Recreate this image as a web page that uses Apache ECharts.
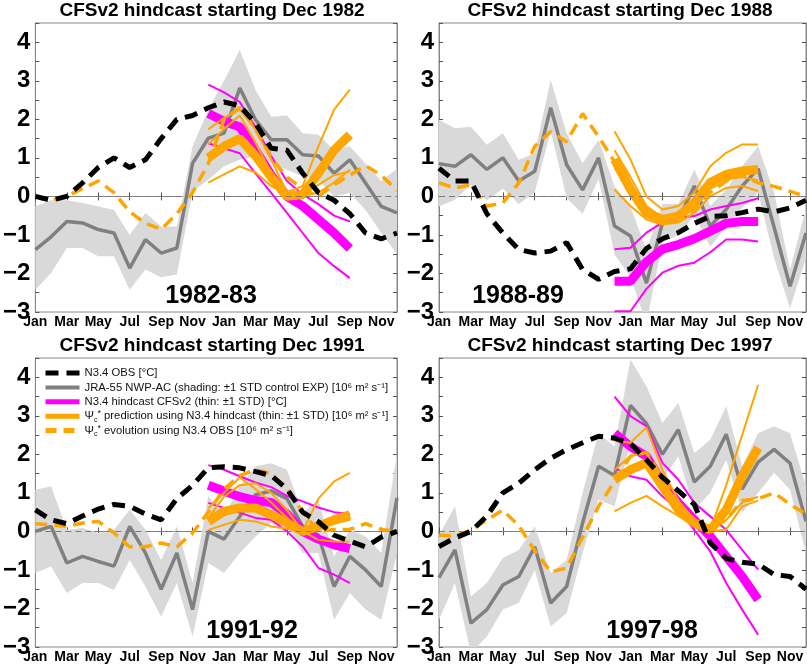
<!DOCTYPE html>
<html><head><meta charset="utf-8">
<script src="https://cdn.jsdelivr.net/npm/echarts@6/dist/echarts.min.js"></script>
<style>html,body{margin:0;padding:0;background:#fff}#c{width:807px;height:665px}</style>
</head><body><div id="c"></div>
<script>
// ---------- categories / labels ----------
const monthLabels = ['Jan','Feb','Mar','Apr','May','Jun','Jul','Aug','Sep','Oct','Nov','Dec',
                     'Jan','Feb','Mar','Apr','May','Jun','Jul','Aug','Sep','Oct','Nov','Dec'];
const yTicks = [-3,-2,-1,0,1,2,3,4];
const panelTitles = ['CFSv2 hindcast starting Dec 1982','CFSv2 hindcast starting Dec 1988',
                     'CFSv2 hindcast starting Dec 1991','CFSv2 hindcast starting Dec 1997'];
const panelYears = ['1982-83','1988-89','1991-92','1997-98'];
const legendNames = ['N3.4 OBS [°C]',
  'JRA-55 NWP-AC (shading: ±1 STD control EXP) [10⁶ m² s⁻¹]',
  'N3.4 hindcast CFSv2 (thin: ±1 STD) [°C]',
  'psiPred', 'psiObs'];
const FC_START = 11; // forecasts run Dec (yr1) .. Sep (yr2)

// ---------- 1982-83 ----------
const jra82   = [-1.38,-1.05,-0.65,-0.69,-0.86,-0.95,-1.86,-1.12,-1.47,-1.34,0.86,1.51,1.64,2.81,1.99,1.47,1.47,1.08,1.05,0.6,0.95,0.35,-0.26,-0.43];
const jraHi82 = [-0.26,-0.1,-0.1,-0.17,-0.26,-0.35,-1.0,-0.43,-0.78,-0.78,1.3,2.25,3.0,3.8,2.76,2.07,2.1,1.64,1.6,1.2,1.3,0.85,0.4,0.72];
const jraLo82 = [-2.42,-1.99,-1.34,-1.34,-1.55,-1.55,-2.42,-1.9,-2.1,-2.03,0.13,0.43,0.78,0.95,1.04,0.86,0.69,0.52,0.43,0.0,0.09,-0.35,-0.95,-1.5];
const obs82   = [0.0,-0.1,0.0,0.35,0.75,1.0,0.75,0.95,1.5,2.0,2.1,2.3,2.45,2.35,1.9,1.25,1.2,0.6,0.1,-0.1,-0.45,-0.95,-1.1,-0.95];
const psiObs82= [0.0,-0.1,0.0,0.2,0.4,0.1,-0.4,-0.7,-0.85,-0.45,0.1,0.85,2.0,2.3,1.75,1.0,0.5,0.2,0.0,0.3,0.55,0.8,0.55,0.15];
const hind82   = [2.15,1.95,1.8,1.2,0.55,0.0,-0.25,-0.6,-0.95,-1.35];
const hindHi82 = [2.9,2.7,2.45,1.8,1.05,0.4,0.05,-0.2,-0.5,-0.65];
const hindLo82 = [1.38,1.25,1.12,0.6,0.09,-0.43,-0.95,-1.47,-1.81,-2.12];
const pred82   = [1.0,1.3,1.5,1.05,0.5,0.0,0.05,0.6,1.2,1.6];
const predThinA82 = [1.74,2.04,2.25,1.74,0.96,0.1,0.27,1.3,2.25,2.77];
const predThinB82 = [0.36,0.57,0.78,0.62,0.27,0.05,0.0,0.1,0.36,0.7];
const predThinC82 = [1.35,1.75,2.1,1.4,0.6,0.0,0.05,0.3,0.55,0.65];

// ---------- 1988-89 ----------
const jra88   = [0.85,0.78,1.08,0.7,1.0,0.4,0.65,2.3,0.82,0.17,1.0,-0.77,-1.03,-2.25,-0.7,-0.6,0.27,-0.77,-0.34,0.27,0.72,-0.8,-2.33,-0.95];
const jraHi88 = [1.99,1.77,1.81,1.34,1.64,0.95,1.12,3.02,1.64,0.86,1.47,0.26,-0.26,-1.4,-0.2,-0.2,0.7,-0.25,0.18,0.78,1.3,0.1,-1.9,-0.3];
const jraLo88 = [-0.26,-0.09,0.3,-0.1,0.2,-0.2,0.1,1.7,-0.05,-0.45,0.45,-1.5,-2.1,-3.3,-1.2,-1.0,-0.5,-1.3,-0.8,-0.3,0.1,-1.6,-2.9,-1.6];
const obs88   = [0.73,0.4,0.4,-0.45,-0.95,-1.38,-1.47,-1.42,-1.2,-1.9,-2.15,-1.95,-1.88,-1.35,-1.1,-0.94,-0.7,-0.52,-0.5,-0.42,-0.33,-0.4,-0.3,-0.1];
const psiObs88= [0.35,0.22,0.3,-0.25,-0.17,0.35,1.3,1.68,1.42,2.15,1.55,0.9,0.2,-0.4,-0.65,-0.6,-0.35,0.1,0.4,0.55,0.35,0.26,0.13,0.0];
const hind88   = [-2.2,-2.2,-1.7,-1.37,-1.25,-1.1,-0.9,-0.7,-0.65,-0.65];
const hindHi88 = [-1.37,-1.33,-0.94,-0.68,-0.55,-0.51,-0.34,-0.25,-0.17,-0.05];
const hindLo88 = [-2.98,-2.98,-2.4,-1.98,-1.8,-1.72,-1.45,-1.12,-1.12,-1.17];
const pred88   = [0.96,0.18,-0.43,-0.6,-0.51,-0.17,0.36,0.57,0.66,0.7];
const predThinA88 = [1.69,0.96,0.0,-0.34,-0.25,0.1,0.78,1.13,1.35,1.35];
const predThinB88 = [0.18,-0.25,-0.6,-0.73,-0.68,-0.43,0.0,0.22,0.27,0.14];
const predThinC88 = [1.2,0.5,-0.25,-0.55,-0.45,-0.1,0.3,0.45,0.5,0.42];
const predThinD88 = [0.75,0.05,-0.5,-0.68,-0.6,-0.28,0.2,0.4,0.6,0.62];

// ---------- 1991-92 ----------
const jra91   = [0.0,0.13,-0.82,-0.65,-0.78,-0.9,0.13,-0.56,-1.5,-0.56,-2.03,0.0,-0.2,0.39,0.95,1.05,0.85,0.13,-0.1,-1.43,-0.65,-1.0,-1.43,0.87];
const jraHi91 = [1.08,1.17,0.04,0.09,-0.04,0.04,0.56,0.04,-0.74,0.13,-1.34,0.91,0.39,1.17,1.69,1.77,1.6,0.48,0.82,-0.65,0.04,-0.13,-0.56,2.03];
const jraLo91 = [-1.08,-0.91,-1.6,-1.34,-1.34,-1.52,-0.74,-1.43,-2.21,-1.34,-2.73,-0.82,-1.08,-0.56,-0.13,0.22,0.13,-0.56,-0.56,-2.29,-1.6,-2.03,-2.29,-0.56];
const obs91   = [0.56,0.3,0.2,0.4,0.58,0.7,0.65,0.45,0.3,0.85,1.2,1.65,1.68,1.65,1.55,1.45,1.1,0.5,0.25,-0.1,-0.25,-0.4,-0.15,0.0];
const psiObs91= [0.2,0.17,0.13,0.22,0.26,-0.04,-0.4,-0.4,-0.3,-0.4,-0.04,0.5,1.1,1.45,1.6,1.5,1.1,0.5,0.0,0.05,0.05,0.2,0.05,0.0];
const hind91   = [1.2,1.05,0.9,0.8,0.75,0.45,0.0,-0.2,-0.35,-0.45];
const hindHi91 = [1.72,1.6,1.43,1.27,1.15,0.92,0.78,0.62,0.5,0.45];
const hindLo91 = [0.74,0.61,0.48,0.35,0.3,0.0,-0.39,-0.95,-1.12,-1.34];
const pred91   = [0.26,0.52,0.61,0.61,0.43,0.22,0.0,0.13,0.3,0.43];
const predThinA91 = [0.35,0.9,1.2,1.25,1.0,0.55,0.0,0.85,1.3,1.52];
const predThinB91 = [0.04,0.17,0.3,0.26,0.13,0.07,0.0,-0.22,-0.26,-0.26];
const predThinC91 = [0.6,1.0,1.4,1.1,0.75,0.35,0.0,0.1,0.2,0.3];

// ---------- 1997-98 ----------
const jra97   = [-1.2,-0.48,-2.38,-2.03,-1.39,-1.17,-0.4,-1.86,-1.43,0.22,1.69,1.45,3.27,2.8,2.0,2.64,1.28,1.69,2.52,1.1,1.8,2.13,1.77,0.26];
const jraHi97 = [-0.1,0.65,-1.69,-1.34,-0.69,-0.48,0.13,-1.08,-0.74,1.0,2.55,2.2,4.46,3.77,2.81,3.33,2.03,2.38,3.25,1.69,2.55,2.73,2.55,1.17];
const jraLo97 = [-2.29,-1.34,-3.16,-2.73,-2.03,-1.86,-1.0,-2.47,-2.12,-0.56,0.82,0.65,2.29,1.86,1.34,1.95,0.56,1.0,1.86,0.48,1.0,1.52,1.08,-0.56];
const obs97   = [-0.39,-0.17,0.0,0.4,1.0,1.25,1.6,1.9,2.12,2.3,2.47,2.42,2.28,1.86,1.4,1.05,0.7,-0.3,-0.7,-0.8,-0.85,-1.12,-1.17,-1.5];
const psiObs97= [-0.1,-0.12,0.03,0.3,0.55,0.15,-0.5,-1.05,-0.95,-0.15,0.65,1.3,1.95,2.05,1.4,0.7,0.25,0.05,0.3,0.8,0.85,1.0,0.7,0.45];
const hind97   = [2.55,2.2,1.95,1.26,0.74,0.3,-0.13,-0.65,-1.17,-1.77];
const hindHi97 = [3.5,2.99,2.73,1.78,1.34,0.74,0.39,0.04,-0.48,-0.99];
const hindLo97 = [1.65,1.43,1.34,0.91,0.56,0.04,-0.52,-1.34,-2.03,-2.68];
const pred97   = [1.34,1.6,1.78,1.17,0.56,0.22,0.04,0.56,1.43,2.17];
const predThinA97 = [2.35,2.3,2.7,1.6,0.8,0.3,0.05,1.2,2.5,3.8];
const predThinB97 = [0.52,0.74,0.92,0.65,0.4,0.13,0.0,0.05,0.65,0.8];
const predThinC97 = [1.6,1.95,2.05,1.2,0.6,0.2,0.0,0.3,0.75,0.9];

const panels = [
  {jra:jra82, hi:jraHi82, lo:jraLo82, obs:obs82, psi:psiObs82, hind:hind82, hindHi:hindHi82, hindLo:hindLo82, pred:pred82, thin:[predThinA82,predThinB82,predThinC82]},
  {jra:jra88, hi:jraHi88, lo:jraLo88, obs:obs88, psi:psiObs88, hind:hind88, hindHi:hindHi88, hindLo:hindLo88, pred:pred88, thin:[predThinA88,predThinB88,predThinC88,predThinD88]},
  {jra:jra91, hi:jraHi91, lo:jraLo91, obs:obs91, psi:psiObs91, hind:hind91, hindHi:hindHi91, hindLo:hindLo91, pred:pred91, thin:[predThinA91,predThinB91,predThinC91]},
  {jra:jra97, hi:jraHi97, lo:jraLo97, obs:obs97, psi:psiObs97, hind:hind97, hindHi:hindHi97, hindLo:hindLo97, pred:pred97, thin:[predThinA97,predThinB97,predThinC97]}
];

// ---------- layout ----------
const FONT = '"Liberation Sans", Arial, Helvetica, sans-serif';
const grids = [
  {left:31, top:23, width:366, height:289},
  {left:439, top:23, width:367, height:289},
  {left:32, top:358, width:365, height:289},
  {left:439, top:358, width:367, height:289}
];
const titlePos = [[212,10.5],[620,10.5],[212,345.5],[620,345.5]];
const yearPos = [[211,296],[518,296],[252,631],[652,631]];

const C_SHADE = '#d9d9d9', C_GRAY = '#808080', C_MAG = '#ff00ff', C_ORA = '#ffa500', C_BLK = '#000000';

function pad(arr){
  return Array(FC_START).fill(null).concat(arr, Array(24 - FC_START - arr.length).fill(null));
}

const xAxes = [], yAxes = [], series = [];
grids.forEach((g, p) => {
  const tickStyle = {inside:true, length:4, lineStyle:{color:'#555', width:1}};
  const baseX = {type:'category', gridIndex:p, data:monthLabels, boundaryGap:false,
    axisLine:{lineStyle:{color:'#888', width:1}}, splitLine:{show:false}};
  xAxes.push(Object.assign({}, baseX, {position:'bottom', axisTick:Object.assign({interval:1}, tickStyle),
    axisLabel:{interval:1, fontSize:14, fontWeight:'bold', color:'#000', margin:3, fontFamily:FONT}}));
  xAxes.push(Object.assign({}, baseX, {position:'top', axisTick:Object.assign({interval:1}, tickStyle),
    axisLabel:{show:false}}));
  const baseY = {type:'value', gridIndex:p, min:-3, max:4.5, interval:0.5,
    axisLine:{show:true, lineStyle:{color:'#888', width:1}}, splitLine:{show:false}, axisTick:Object.assign({show:true}, tickStyle)};
  yAxes.push(Object.assign({}, baseY, {position:'left', axisLabel:{fontSize:24, fontWeight:'bold', color:'#000', margin:5, fontFamily:FONT,
    formatter: v => yTicks.indexOf(v) >= 0 ? (v < 0 ? '\u2212' + Math.abs(v) : String(v)) : ''}}));
  yAxes.push(Object.assign({}, baseY, {position:'right', axisLabel:{show:false}}));

  const d = panels[p];
  const ax = {xAxisIndex:2*p, yAxisIndex:2*p, animation:false, symbol:'none', showSymbol:false};
  const diff = d.hi.map((h, i) => +(h - d.lo[i]).toFixed(3));
  series.push(Object.assign({}, ax, {type:'line', data:d.lo, stack:'band'+p, stackStrategy:'all',
    lineStyle:{opacity:0, width:0}, silent:true, z:1}));
  series.push(Object.assign({}, ax, {type:'line', data:diff, stack:'band'+p, stackStrategy:'all',
    lineStyle:{opacity:0, width:0}, areaStyle:{color:C_SHADE, opacity:1}, silent:true, z:1,
    markLine:{silent:true, symbol:'none', label:{show:false}, animation:false,
      lineStyle:{color:'#7a7a7a', width:1, type:[6,4]}, data:[{yAxis:0}]}}));
  series.push(Object.assign({}, ax, {type:'line', name:legendNames[1], data:d.jra, color:C_GRAY,
    lineStyle:{color:C_GRAY, width:3.5}, z:2}));
  series.push(Object.assign({}, ax, {type:'line', name:legendNames[2], data:pad(d.hind), color:C_MAG,
    lineStyle:{color:C_MAG, width:9, cap:'butt'}, z:3}));
  [d.hindHi, d.hindLo].forEach(a => series.push(Object.assign({}, ax, {type:'line', data:pad(a), color:C_MAG,
    lineStyle:{color:C_MAG, width:2}, z:3})));
  series.push(Object.assign({}, ax, {type:'line', name:legendNames[3], data:pad(d.pred), color:C_ORA,
    lineStyle:{color:C_ORA, width:9, cap:'butt'}, z:4}));
  d.thin.forEach(a => series.push(Object.assign({}, ax, {type:'line', data:pad(a), color:C_ORA,
    lineStyle:{color:C_ORA, width:2}, z:4})));
  series.push(Object.assign({}, ax, {type:'line', name:legendNames[4], data:d.psi, color:C_ORA,
    lineStyle:{color:C_ORA, width:3.5, type:[12,7]}, z:5}));
  series.push(Object.assign({}, ax, {type:'line', name:legendNames[0], data:d.obs, color:C_BLK,
    lineStyle:{color:C_BLK, width:5, type:[13,8]}, z:6}));
});

const graphics = [];
panelTitles.forEach((t, i) => graphics.push({type:'text', x:titlePos[i][0], y:titlePos[i][1], silent:true,
  style:{text:t, font:'bold 19px ' + FONT, fill:'#000', align:'center', verticalAlign:'middle', textAlign:'center', textVerticalAlign:'middle'}}));
panelYears.forEach((t, i) => graphics.push({type:'text', x:yearPos[i][0], y:yearPos[i][1], silent:true, z:100,
  style:{text:t, font:'bold 25px ' + FONT, fill:'#000', align:'center', verticalAlign:'middle', textAlign:'center', textVerticalAlign:'middle'}}));

const legendText = {
  psiPred: 'Ψ{sub|c}{sup|*} prediction using N3.4 hindcast (thin: ±1 STD) [10⁶ m² s⁻¹]',
  psiObs: 'Ψ{sub|c}{sup|*} evolution using N3.4 OBS [10⁶ m² s⁻¹]'
};
const hideSym = {opacity:0, color:'transparent', borderWidth:0};

const chart = echarts.init(document.getElementById('c'), null, {renderer:'canvas'});
chart.setOption({
  animation:false,
  backgroundColor:'#fff',
  grid: grids.map(g => Object.assign({show:true, borderColor:'#888', borderWidth:1, backgroundColor:'transparent', containLabel:false}, g)),
  xAxis: xAxes,
  yAxis: yAxes,
  legend: {
    show:true, orient:'vertical', left:38, top:361, itemWidth:34, itemHeight:10, itemGap:0.4,
    selectedMode:false,
    itemStyle: hideSym,
    data: [
      {name:legendNames[0], itemStyle:hideSym, lineStyle:{width:5, color:C_BLK, type:[13,8]}},
      {name:legendNames[1], itemStyle:hideSym, lineStyle:{width:4, color:C_GRAY, type:'solid'}},
      {name:legendNames[2], itemStyle:hideSym, lineStyle:{width:5, color:C_MAG, type:'solid'}},
      {name:legendNames[3], itemStyle:hideSym, lineStyle:{width:5, color:C_ORA, type:'solid'}},
      {name:legendNames[4], itemStyle:hideSym, lineStyle:{width:5, color:C_ORA, type:[11,7]}}
    ],
    formatter: n => legendText[n] || n,
    textStyle: {fontSize:11.3, fontFamily:FONT, color:'#111', lineHeight:14,
      rich:{ sub:{fontSize:7, fontFamily:FONT, verticalAlign:'bottom', lineHeight:14, color:'#111'},
             sup:{fontSize:9, fontFamily:FONT, verticalAlign:'top', lineHeight:14, color:'#111'} }}
  },
  graphic: graphics,
  series: series
});
</script>
</body></html>
